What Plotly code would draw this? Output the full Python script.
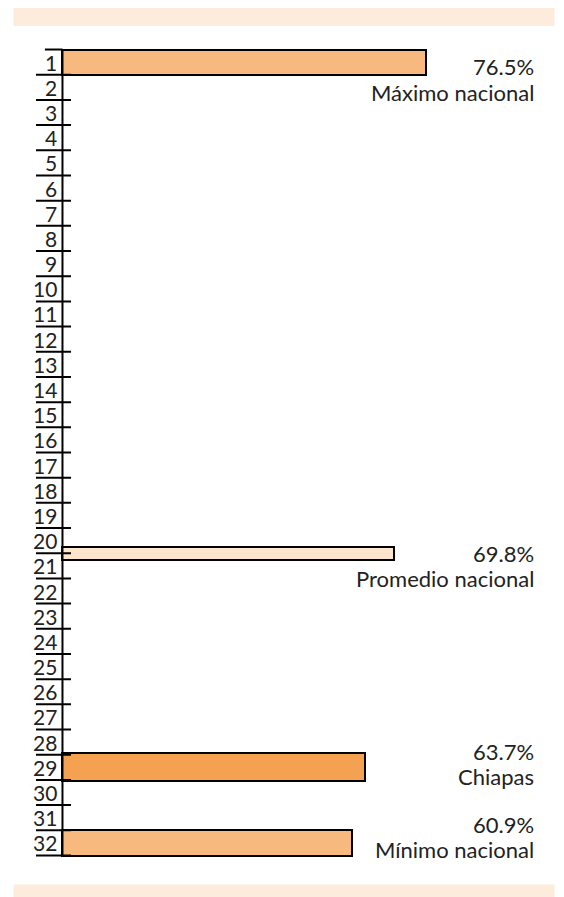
import plotly.graph_objects as go

# ---- data ----
rank_labels = [str(i) for i in range(1, 33)]
bar_names = ["Máximo nacional", "Promedio nacional", "Chiapas", "Mínimo nacional"]
bar_values = [76.5, 69.8, 63.7, 60.9]
bar_positions = [1, 20.5, 29, 32]   # position on the ranking (Promedio lies between 20 and 21)

# ---- styles ----
bar_colors = ["#F8B97F", "#FDE4CD", "#F5A152", "#F8B97F"]
bar_widths = [1.0, 0.52, 1.12, 1.05]
value_offsets = [0.19, 0.02, -0.64, -0.73]   # value-text offset from bar centre (rank units)
LINE_GAP = 1.0                               # name line sits one row below the value line
FONT = "Lato"
TXT = "#222222"

fig = go.Figure()
fig.add_trace(go.Bar(
    orientation="h",
    x=bar_values,
    y=bar_positions,
    width=bar_widths,
    marker=dict(color=bar_colors, line=dict(color="black", width=2)),
    hoverinfo="skip",
    showlegend=False,
))

shapes = []
shapes.append(dict(type="line", xref="x", yref="y", x0=0, x1=0, y0=0.5, y1=32.5,
                   line=dict(color="black", width=2), layer="above"))
shapes.append(dict(type="line", xref="x", yref="y", x0=-3.7, x1=0, y0=0.5, y1=0.5,
                   line=dict(color="black", width=2), layer="above"))
for i, _ in enumerate(rank_labels):
    yb = i + 1.5
    shapes.append(dict(type="line", xref="x", yref="y", x0=-5.57, x1=1.79, y0=yb, y1=yb,
                       line=dict(color="black", width=2), layer="above"))
# decorative bands
shapes.append(dict(type="rect", xref="paper", yref="paper", x0=-0.0324, x1=1.0325,
                   y0=1.0259, y1=1.06, fillcolor="#FDEBDB", line=dict(width=0)))
shapes.append(dict(type="rect", xref="paper", yref="paper", x0=-0.0324, x1=1.0325,
                   y0=-0.07, y1=-0.0327, fillcolor="#FDEBDB", line=dict(width=0)))

annotations = []
for i, lab in enumerate(rank_labels):
    annotations.append(dict(x=-0.8, y=i + 1, xref="x", yref="y", text=lab,
                            xanchor="right", yanchor="middle", showarrow=False,
                            font=dict(family=FONT, size=21, color=TXT)))
for name, val, pos, off in zip(bar_names, bar_values, bar_positions, value_offsets):
    annotations.append(dict(x=0.997, y=pos + off, xref="paper", yref="y",
                            text=f"{val:.1f}%", xanchor="right", yanchor="middle",
                            showarrow=False, font=dict(family=FONT, size=22, color=TXT)))
    annotations.append(dict(x=0.997, y=pos + off + LINE_GAP, xref="paper", yref="y",
                            text=name, xanchor="right", yanchor="middle",
                            showarrow=False, font=dict(family=FONT, size=22, color=TXT)))

fig.update_layout(
    width=556, height=889,
    margin=dict(l=22, r=25.5, t=39, b=38.5, autoexpand=False),
    paper_bgcolor="white", plot_bgcolor="white",
    xaxis=dict(range=[-6.83, 100], visible=False, fixedrange=True),
    yaxis=dict(range=[32.6, 0.4], visible=False, fixedrange=True),
    shapes=shapes,
    annotations=annotations,
    bargap=0,
)

fig.write_html("out.html", config={"displayModeBar": False})
